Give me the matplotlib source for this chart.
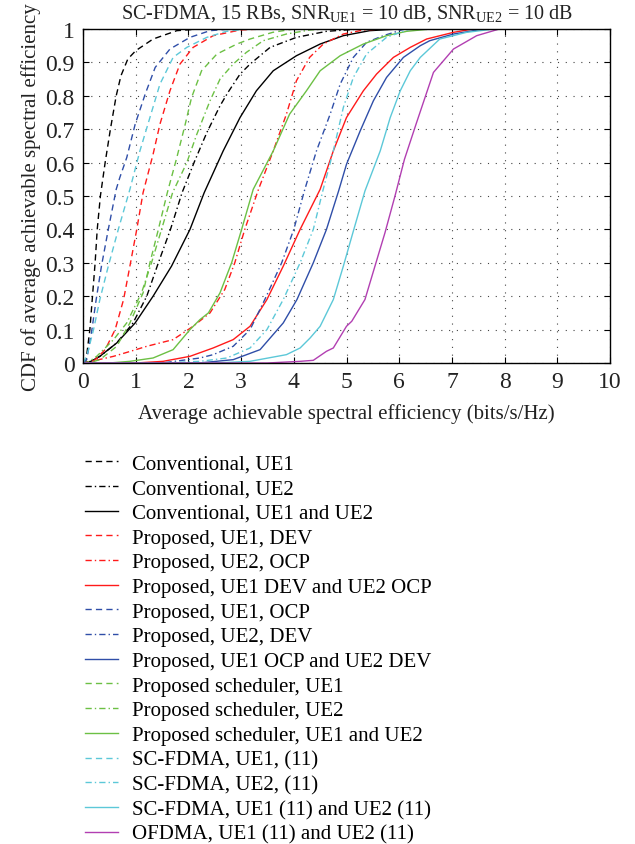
import matplotlib
matplotlib.use("Agg")
import matplotlib.pyplot as plt

# CDF curves (x = spectral efficiency, y = CDF)
conv_ue1_x = [0, 0.06, 0.13, 0.18, 0.23, 0.27, 0.33, 0.42, 0.52, 0.63, 0.72, 0.85, 1.0, 1.33, 1.78, 2.2]
conv_ue1_y = [0, 0.01, 0.1, 0.2, 0.3, 0.4, 0.5, 0.6, 0.7, 0.8, 0.86, 0.91, 0.935, 0.97, 0.995, 1.0]

conv_ue2_x = [0, 0.15, 0.32, 0.64, 0.95, 1.21, 1.43, 1.66, 1.88, 2.12, 2.35, 2.6, 2.75, 2.98, 3.17, 3.55, 4.05, 4.62, 5.25]
conv_ue2_y = [0, 0.005, 0.02, 0.06, 0.12, 0.20, 0.30, 0.40, 0.51, 0.605, 0.69, 0.77, 0.81, 0.865, 0.895, 0.945, 0.975, 0.993, 1.0]

conv_both_x = [0, 0.15, 0.32, 0.64, 0.99, 1.33, 1.68, 2.03, 2.3, 2.66, 2.98, 3.29, 3.61, 4.05, 4.5, 4.94, 5.44, 6.0]
conv_both_y = [0, 0.005, 0.02, 0.06, 0.12, 0.20, 0.29, 0.40, 0.51, 0.635, 0.735, 0.815, 0.875, 0.92, 0.955, 0.98, 0.995, 1.0]

dev_ue1_x = [0, 0.1, 0.2, 0.42, 0.61, 0.77, 0.89, 1.02, 1.14, 1.33, 1.46, 1.65, 1.84, 2.09, 2.47, 2.98, 3.4]
dev_ue1_y = [0, 0.0, 0.005, 0.04, 0.10, 0.19, 0.29, 0.40, 0.51, 0.625, 0.715, 0.815, 0.895, 0.945, 0.98, 0.997, 1.0]

ocp_ue2_x = [0, 0.3, 0.58, 0.9, 1.21, 1.71, 2.09, 2.41, 2.69, 2.88, 3.07, 3.33, 3.61, 3.86, 4.05, 4.3, 4.56, 4.94, 5.32, 5.7]
ocp_ue2_y = [0, 0.01, 0.02, 0.035, 0.05, 0.07, 0.11, 0.15, 0.22, 0.30, 0.40, 0.52, 0.635, 0.745, 0.845, 0.915, 0.955, 0.985, 0.997, 1.0]

dev_ocp_x = [0, 1.0, 1.52, 2.03, 2.47, 2.85, 3.17, 3.49, 3.80, 4.12, 4.5, 4.75, 5.0, 5.32, 5.57, 5.89, 6.21, 6.52, 7.03, 7.4]
dev_ocp_y = [0, 0.0, 0.005, 0.02, 0.045, 0.07, 0.11, 0.19, 0.29, 0.40, 0.52, 0.635, 0.735, 0.815, 0.865, 0.915, 0.945, 0.97, 0.99, 1.0]

ocp_ue1_x = [0, 0.07, 0.16, 0.25, 0.35, 0.48, 0.63, 0.70, 0.83, 0.99, 1.18, 1.37, 1.65, 2.03, 2.41, 2.8]
ocp_ue1_y = [0, 0.01, 0.09, 0.19, 0.29, 0.40, 0.52, 0.556, 0.615, 0.715, 0.805, 0.885, 0.94, 0.975, 0.995, 1.0]

dev_ue2_x = [0, 1.5, 2.22, 2.47, 2.85, 3.17, 3.45, 3.77, 4.0, 4.2, 4.43, 4.69, 4.88, 5.13, 5.38, 5.70, 6.1]
dev_ue2_y = [0, 0.0, 0.015, 0.025, 0.05, 0.10, 0.19, 0.30, 0.40, 0.515, 0.635, 0.745, 0.835, 0.915, 0.96, 0.98, 1.0]

ocp_dev_x = [0, 2.2, 2.85, 3.36, 3.80, 4.06, 4.37, 4.62, 4.85, 5.0, 5.26, 5.51, 5.76, 6.08, 6.40, 6.58, 7.03, 7.6]
ocp_dev_y = [0, 0.0, 0.01, 0.04, 0.12, 0.19, 0.30, 0.40, 0.515, 0.595, 0.695, 0.785, 0.855, 0.915, 0.95, 0.965, 0.985, 1.0]

sched_ue1_x = [0, 0.15, 0.32, 0.64, 0.89, 1.14, 1.27, 1.43, 1.6, 1.78, 1.94, 2.06, 2.25, 2.54, 2.92, 3.17, 3.6, 4.0]
sched_ue1_y = [0, 0.002, 0.01, 0.05, 0.12, 0.21, 0.30, 0.40, 0.51, 0.615, 0.715, 0.795, 0.875, 0.925, 0.955, 0.97, 0.99, 1.0]

sched_ue2_x = [0, 0.1, 0.26, 0.58, 0.83, 1.11, 1.30, 1.49, 1.70, 1.97, 2.16, 2.41, 2.60, 2.85, 3.1, 3.42, 3.86, 4.3, 4.6]
sched_ue2_y = [0, 0.003, 0.02, 0.07, 0.12, 0.21, 0.30, 0.40, 0.51, 0.60, 0.685, 0.785, 0.85, 0.895, 0.93, 0.965, 0.985, 0.997, 1.0]

sched_both_x = [0, 0.5, 0.89, 1.33, 1.71, 2.03, 2.22, 2.38, 2.6, 2.82, 3.01, 3.23, 3.61, 3.92, 4.24, 4.5, 4.88, 5.32, 5.76, 6.14, 6.6]
sched_both_y = [0, 0.0, 0.005, 0.015, 0.04, 0.10, 0.13, 0.15, 0.21, 0.30, 0.40, 0.52, 0.635, 0.745, 0.815, 0.875, 0.92, 0.955, 0.98, 0.993, 1.0]

sc_ue1_x = [0, 0.07, 0.20, 0.32, 0.48, 0.67, 0.89, 1.08, 1.27, 1.46, 1.71, 1.97, 2.35, 2.72, 3.1]
sc_ue1_y = [0, 0.02, 0.10, 0.19, 0.29, 0.40, 0.52, 0.635, 0.735, 0.835, 0.915, 0.945, 0.975, 0.993, 1.0]

sc_ue2_x = [0, 1.5, 2.22, 2.73, 3.17, 3.49, 3.80, 4.12, 4.37, 4.55, 4.75, 4.94, 5.13, 5.38, 5.76, 6.2]
sc_ue2_y = [0, 0.0, 0.005, 0.015, 0.045, 0.10, 0.19, 0.30, 0.40, 0.515, 0.635, 0.765, 0.855, 0.925, 0.975, 1.0]

sc_both_x = [0, 2.5, 3.17, 3.86, 4.12, 4.31, 4.50, 4.75, 4.94, 5.13, 5.35, 5.64, 5.83, 6.02, 6.21, 6.40, 6.77, 7.28, 7.8]
sc_both_y = [0, 0.0, 0.005, 0.025, 0.045, 0.075, 0.11, 0.19, 0.29, 0.395, 0.515, 0.635, 0.735, 0.815, 0.875, 0.915, 0.97, 0.99, 1.0]

ofdma_x = [0, 3.5, 4.12, 4.37, 4.62, 4.75, 5.0, 5.10, 5.35, 5.54, 5.73, 5.92, 6.1, 6.33, 6.65, 7.03, 7.47, 7.9]
ofdma_y = [0, 0.0, 0.005, 0.008, 0.035, 0.045, 0.11, 0.125, 0.19, 0.29, 0.39, 0.5, 0.61, 0.72, 0.87, 0.94, 0.98, 1.0]

labels = [
    "Conventional, UE1", "Conventional, UE2", "Conventional, UE1 and UE2",
    "Proposed, UE1, DEV", "Proposed, UE2, OCP", "Proposed, UE1 DEV and UE2 OCP",
    "Proposed, UE1, OCP", "Proposed, UE2, DEV", "Proposed, UE1 OCP and UE2 DEV",
    "Proposed scheduler, UE1", "Proposed scheduler, UE2", "Proposed scheduler, UE1 and UE2",
    "SC-FDMA, UE1, (11)", "SC-FDMA, UE2, (11)", "SC-FDMA, UE1 (11) and UE2 (11)",
    "OFDMA, UE1 (11) and UE2 (11)",
]

curves = [
    (conv_ue1_x, conv_ue1_y), (conv_ue2_x, conv_ue2_y), (conv_both_x, conv_both_y),
    (dev_ue1_x, dev_ue1_y), (ocp_ue2_x, ocp_ue2_y), (dev_ocp_x, dev_ocp_y),
    (ocp_ue1_x, ocp_ue1_y), (dev_ue2_x, dev_ue2_y), (ocp_dev_x, ocp_dev_y),
    (sched_ue1_x, sched_ue1_y), (sched_ue2_x, sched_ue2_y), (sched_both_x, sched_both_y),
    (sc_ue1_x, sc_ue1_y), (sc_ue2_x, sc_ue2_y), (sc_both_x, sc_both_y),
    (ofdma_x, ofdma_y),
]

BLACK, RED, BLUE, GREEN, CYAN, MAGENTA = "#000000", "#ff1a1a", "#2f4ea8", "#6cc044", "#5cc8d8", "#b23fb2"
DASH = (0, (4.5, 3))
DASHDOT = (0, (4.5, 2.2, 1, 2.2))
colors = [BLACK] * 3 + [RED] * 3 + [BLUE] * 3 + [GREEN] * 3 + [CYAN] * 3 + [MAGENTA]
styles = [DASH, DASHDOT, "-"] * 5 + ["-"]

plt.rcParams["font.family"] = ["Liberation Serif", "DejaVu Serif"]
plt.rcParams["mathtext.fontset"] = "custom"
plt.rcParams["mathtext.rm"] = "Liberation Serif"
plt.rcParams["font.size"] = 15

fig = plt.figure(figsize=(6.35, 8.45), dpi=100)
ax = fig.add_axes([83 / 635, 1 - 364 / 845, 527 / 635, 334 / 845])

lines = []
for (xs, ys), c, ls, lab in zip(curves, colors, styles, labels):
    ln, = ax.plot(xs, ys, color=c, linestyle=ls, linewidth=1.0, label=lab)
    lines.append(ln)

ax.set_xlim(0, 10)
ax.set_ylim(0, 1)
ax.set_xticks(range(0, 11))
yt = [i / 10 for i in range(11)]
ax.set_yticks(yt)
ax.set_yticklabels(["0"] + [f"{v:.1f}" for v in yt[1:-1]] + ["1"])
ax.tick_params(direction="in", top=True, right=True, length=4, width=0.8,
               labelsize=17, pad=6, labelcolor="#222222")
ax.grid(True, color="#444444", linestyle=(0, (1, 6)), linewidth=0.8)
for s in ax.spines.values():
    s.set_linewidth(1.0)

ax.set_title(r"SC-FDMA, 15 RBs, SNR$_{\mathrm{UE1}}$ = 10 dB, SNR$_{\mathrm{UE2}}$ = 10 dB",
             fontsize=14.5, pad=8, color="#222222")
ax.set_xlabel("Average achievable spectral efficiency (bits/s/Hz)", fontsize=15, labelpad=8, color="#222222")
ax.set_ylabel("CDF of average achievable spectral efficiency", fontsize=15, labelpad=3, color="#222222")

fig.legend(handles=lines, loc="upper left", bbox_to_anchor=(85 / 635, 1 - 455 / 845),
           frameon=False, fontsize=15, handlelength=1.6, handletextpad=0.65,
           labelspacing=0.245, borderpad=0, borderaxespad=0)

fig.savefig("out.png", dpi=100)
